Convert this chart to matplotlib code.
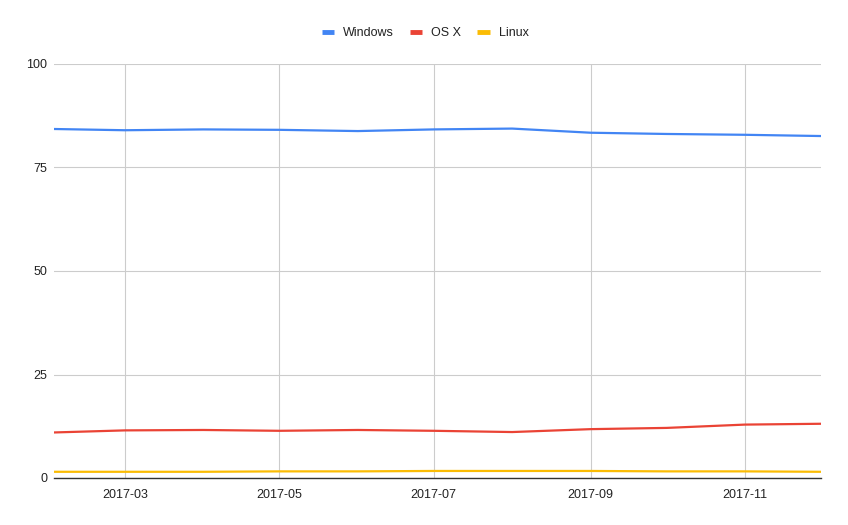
import numpy as np
import pandas as pd
import matplotlib
matplotlib.use("Agg")
import matplotlib.pyplot as plt
import matplotlib.dates as mdates

plt.rcParams['font.family'] = ['Liberation Sans', 'DejaVu Sans']

# monthly share (%) by operating system
months = pd.date_range("2017-02-01", "2017-12-01", freq="MS")
windows = [84.3, 84.0, 84.2, 84.1, 83.8, 84.2, 84.4, 83.4, 83.1, 82.9, 82.6]
osx = [11.0, 11.5, 11.6, 11.4, 11.6, 11.4, 11.1, 11.8, 12.1, 12.9, 13.1]
linux = [1.5, 1.5, 1.5, 1.6, 1.6, 1.7, 1.7, 1.7, 1.6, 1.6, 1.5]

series_names = ["Windows", "OS X", "Linux"]
series_colors = ["#4285F4", "#EA4335", "#FBBC04"]
y_ticks = [0, 25, 50, 75, 100]

fig = plt.figure(figsize=(8.48, 5.25), dpi=100)
ax = fig.add_axes([54/848, 1 - 478/525, (821 - 54)/848, (478 - 64)/525])

for vals, name, col in zip([windows, osx, linux], series_names, series_colors):
	ax.plot(months, vals, color=col, lw=1.6, label=name, solid_capstyle='round', zorder=3)

ax.set_xlim(months[0], months[-1])
ax.set_ylim(0, 100)
ax.set_yticks(y_ticks)
ax.xaxis.set_major_locator(mdates.MonthLocator(bymonth=[3, 5, 7, 9, 11]))
ax.xaxis.set_major_formatter(mdates.DateFormatter("%Y-%m"))

ax.grid(True, color="#cccccc", lw=0.8, zorder=0)
ax.axhline(0, color="#333333", lw=1.0, zorder=4, clip_on=False)
for s in ax.spines.values():
	s.set_visible(False)
ax.tick_params(length=0, labelsize=9, colors="#222222")
ax.tick_params(axis='y', pad=5)
ax.tick_params(axis='x', pad=8)

leg = ax.legend(loc='center', bbox_to_anchor=(0.484, 1.075), ncol=3, frameon=False,
	fontsize=9, handlelength=1.0, handletextpad=0.72, columnspacing=1.28,
	borderaxespad=0, borderpad=0)
for h in leg.get_lines():
	h.set_linewidth(3.5)
	h.set_solid_capstyle('butt')
for t in leg.get_texts():
	t.set_color("#222222")

fig.savefig("out.png", dpi=100)
